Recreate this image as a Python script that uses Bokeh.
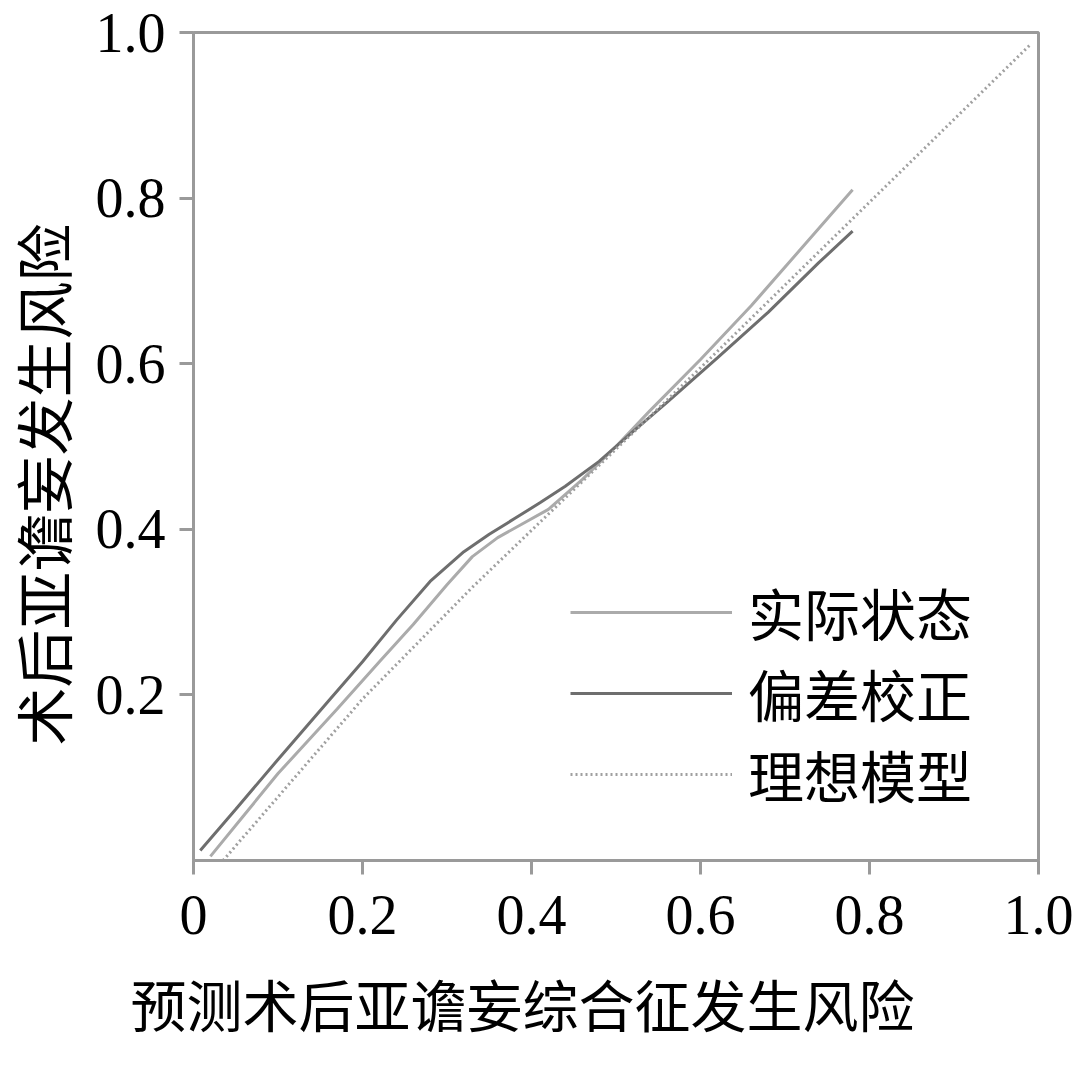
from bokeh.plotting import figure
from bokeh.models import Range1d, FixedTicker, Legend, LegendItem, Title
from bokeh.embed import file_html
from bokeh.resources import INLINE

# ---- data ----
apparent_x = [0.02, 0.06, 0.10, 0.17, 0.22, 0.26, 0.30, 0.33, 0.36, 0.39, 0.42, 0.46, 0.50, 0.54, 0.60, 0.66, 0.72, 0.78]
apparent_y = [0.005, 0.055, 0.105, 0.183, 0.24, 0.285, 0.333, 0.367, 0.39, 0.407, 0.424, 0.46, 0.50, 0.543, 0.605, 0.67, 0.74, 0.81]

corrected_x = [0.008, 0.05, 0.10, 0.16, 0.20, 0.24, 0.28, 0.32, 0.35, 0.38, 0.41, 0.44, 0.48, 0.52, 0.56, 0.62, 0.68, 0.74, 0.78]
corrected_y = [0.012, 0.062, 0.122, 0.193, 0.240, 0.290, 0.337, 0.373, 0.394, 0.413, 0.432, 0.452, 0.482, 0.518, 0.553, 0.607, 0.662, 0.722, 0.76]

ideal_x = [0.035, 0.20, 0.33, 0.60, 0.99]
ideal_y = [0.0, 0.195, 0.33, 0.595, 0.985]

x_ticks = [0, 0.2, 0.4, 0.6, 0.8, 1.0]
x_tick_labels = ["0", "0.2", "0.4", "0.6", "0.8", "1.0"]
y_ticks = [0.2, 0.4, 0.6, 0.8, 1.0]
y_tick_labels = ["0.2", "0.4", "0.6", "0.8", "1.0"]

series_names = ["实际状态", "偏差校正", "理想模型"]
x_title = "预测术后亚谵妄综合征发生风险"
y_title = "术后亚谵妄发生风险"

CJK = "Noto Sans CJK SC"
TITLE_FONT = "'Liberation Serif', 'Noto Sans CJK SC'"
SERIF = "Liberation Serif"
AX = "#9a9a9a"

p = figure(width=1080, height=1076, output_backend="svg", toolbar_location=None,
           x_range=Range1d(0, 1), y_range=Range1d(0, 1),
           min_border_left=193, min_border_right=42, min_border_top=32, min_border_bottom=214)
p.grid.visible = False
p.outline_line_color = AX
p.outline_line_width = 3
p.background_fill_color = "white"
p.border_fill_color = "white"

for ax in (p.xaxis[0], p.yaxis[0]):
    ax.axis_line_color = AX
    ax.axis_line_width = 3
    ax.major_tick_line_color = AX
    ax.major_tick_line_width = 3
    ax.major_tick_in = 0
    ax.major_tick_out = 14
    ax.minor_tick_line_color = None
    ax.major_label_text_font = SERIF
    ax.major_label_text_font_size = "56px"
    ax.major_label_text_color = "black"

p.xaxis[0].ticker = FixedTicker(ticks=x_ticks)
p.xaxis[0].major_label_overrides = {t: l for t, l in zip(x_ticks, x_tick_labels)}
p.xaxis[0].major_label_standoff = 21
p.yaxis[0].ticker = FixedTicker(ticks=y_ticks)
p.yaxis[0].major_label_overrides = {t: l for t, l in zip(y_ticks, y_tick_labels)}
p.yaxis[0].major_label_standoff = 14

r1 = p.line(apparent_x, apparent_y, line_color="#ababab", line_width=3)
r2 = p.line(corrected_x, corrected_y, line_color="#6e6e6e", line_width=3)
r3 = p.line(ideal_x, ideal_y, line_color="#a0a0a0", line_width=3, line_dash="2 3")

legend = Legend(items=[LegendItem(label=series_names[0], renderers=[r1]),
                       LegendItem(label=series_names[1], renderers=[r2]),
                       LegendItem(label=series_names[2], renderers=[r3])],
                location=(377, 46), padding=0, margin=0, spacing=-10,
                glyph_width=162, glyph_height=70, label_height=70, label_standoff=16,
                label_text_font=CJK, label_text_font_size="56px", label_text_color="black",
                border_line_color=None, background_fill_alpha=0)
p.add_layout(legend, "center")

p.add_layout(Title(text=x_title, align="left", offset=-63, standoff=76,
                   text_font=TITLE_FONT, text_font_size="56px", text_font_style="normal",
                   text_color="black"), "below")
p.add_layout(Title(text=y_title, align="left", offset=115, standoff=25,
                   text_font=TITLE_FONT, text_font_size="58px", text_font_style="normal",
                   text_color="black"), "left")

open("out.html", "w").write(file_html(p, INLINE))
